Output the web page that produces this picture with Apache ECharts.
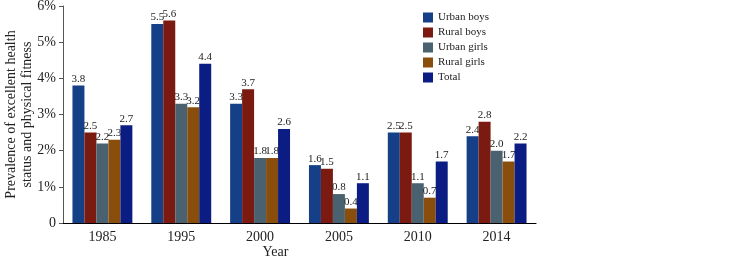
<!DOCTYPE html>
<html>
<head>
<meta charset="utf-8">
<script src="https://cdn.jsdelivr.net/npm/echarts@6/dist/echarts.min.js"></script>
<style>
  html, body { margin: 0; padding: 0; background: #fff; }
  #chart { width: 756px; height: 257px; }
</style>
</head>
<body>
<div id="chart"></div>
<script>
const years = ['1985', '1995', '2000', '2005', '2010', '2014'];
const urbanBoys = [3.8, 5.5, 3.3, 1.6, 2.5, 2.4];
const ruralBoys = [2.5, 5.6, 3.7, 1.5, 2.5, 2.8];
const urbanGirls = [2.2, 3.3, 1.8, 0.8, 1.1, 2.0];
const ruralGirls = [2.3, 3.2, 1.8, 0.4, 0.7, 1.7];
const total = [2.7, 4.4, 2.6, 1.1, 1.7, 2.2];

const font = 'Liberation Serif';
const chart = echarts.init(document.getElementById('chart'));

function bar(name, data, color) {
	return {
		name: name,
		type: 'bar',
		data: data,
		barGap: 0,
		barCategoryGap: '24%',
		itemStyle: { color: color },
		label: {
			show: true,
			position: 'top',
			distance: 1,
			fontFamily: font,
			fontSize: 11,
			color: '#222',
			formatter: p => p.value.toFixed(1)
		}
	};
}

chart.setOption({
	animation: false,
	textStyle: { fontFamily: font },
	grid: { left: 63, right: 220, top: 6, bottom: 34, containLabel: false, outerBoundsMode: 'none' },
	legend: {
		orient: 'vertical',
		left: 418,
		top: 7,
		itemWidth: 10,
		itemHeight: 10,
		itemGap: 4,
		icon: 'rect',
		textStyle: { fontFamily: font, fontSize: 11, color: '#222' }
	},
	xAxis: {
		type: 'category',
		data: years,
		name: 'Year',
		nameLocation: 'middle',
		nameGap: 22,
		nameMoveOverlap: false,
		nameTextStyle: { fontFamily: font, fontSize: 14, color: '#222', padding: [0, 48, 0, 0] },
		axisLine: { lineStyle: { color: '#000', width: 1.2 } },
		axisTick: { show: false },
		axisLabel: { fontFamily: font, fontSize: 14, color: '#222', margin: 7 }
	},
	yAxis: {
		type: 'value',
		min: 0,
		max: 6,
		interval: 1,
		name: 'Prevalence of excellent health\nstatus and physical fitness',
		nameLocation: 'middle',
		nameGap: 28,
		nameMoveOverlap: false,
		nameTextStyle: { fontFamily: font, fontSize: 14, color: '#222', lineHeight: 16 },
		axisLine: { show: true, lineStyle: { color: '#555' } },
		axisTick: { show: true, length: 4, lineStyle: { color: '#555' } },
		splitLine: { show: false },
		axisLabel: {
			fontFamily: font, fontSize: 14, color: '#222', margin: 7,
			formatter: v => v === 0 ? '0' : v + '%'
		}
	},
	series: [
		bar('Urban boys', urbanBoys, '#153F86'),
		bar('Rural boys', ruralBoys, '#7B1A10'),
		bar('Urban girls', urbanGirls, '#4A6270'),
		bar('Rural girls', ruralGirls, '#8A4E0C'),
		bar('Total', total, '#0B1C82')
	]
});
</script>
</body>
</html>
